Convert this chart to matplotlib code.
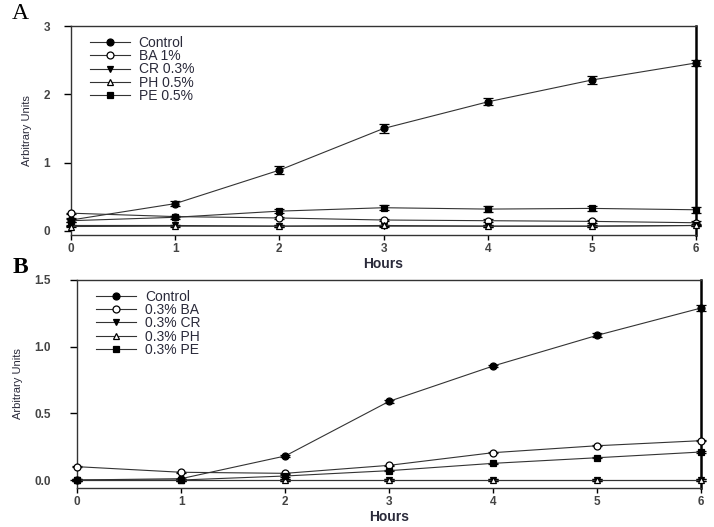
import numpy as np
import matplotlib.pyplot as plt

hours = [0, 1, 2, 3, 4, 5, 6]

# panel A
labels_a = ['Control', 'BA 1%', 'CR 0.3%', 'PH 0.5%', 'PE 0.5%']
ctrl_a = [0.16, 0.40, 0.89, 1.50, 1.89, 2.21, 2.46]
ctrl_a_err = [0.03, 0.04, 0.06, 0.07, 0.05, 0.06, 0.04]
ba_a = [0.26, 0.21, 0.19, 0.16, 0.15, 0.14, 0.12]
ba_a_err = [0.01, 0.01, 0.01, 0.02, 0.02, 0.02, 0.02]
cr_a = [0.08, 0.08, 0.07, 0.07, 0.07, 0.07, 0.08]
cr_a_err = [0.01, 0.01, 0.01, 0.01, 0.01, 0.01, 0.01]
ph_a = [0.065, 0.07, 0.07, 0.08, 0.07, 0.07, 0.08]
ph_a_err = [0.01, 0.01, 0.01, 0.01, 0.01, 0.01, 0.01]
pe_a = [0.15, 0.20, 0.29, 0.34, 0.32, 0.33, 0.31]
pe_a_err = [0.02, 0.02, 0.03, 0.04, 0.04, 0.04, 0.04]

# panel B
labels_b = ['Control', '0.3% BA', '0.3% CR', '0.3% PH', '0.3% PE']
ctrl_b = [0.0, 0.01, 0.18, 0.59, 0.855, 1.085, 1.29]
ctrl_b_err = [0.0, 0.0, 0.005, 0.01, 0.01, 0.015, 0.02]
ba_b = [0.10, 0.058, 0.05, 0.11, 0.205, 0.257, 0.295]
cr_b = [0, 0, 0, 0, 0, 0, 0]
ph_b = [0, 0, 0, 0, 0, 0, 0]
pe_b = [0.0, 0.0, 0.03, 0.07, 0.125, 0.167, 0.21]
small_err = [0.005] * 7

markers = ['o', 'o', 'v', '^', 's']
faces = ['black', 'white', 'black', 'white', 'black']
txtcol = '#2a2a3a'

plt.rcParams['font.family'] = ['Liberation Sans', 'DejaVu Sans']

fig = plt.figure(figsize=(7.14, 5.27), dpi=100)
axA = fig.add_axes([0.0994, 0.554, 0.8756, 0.3966])
axB = fig.add_axes([0.108, 0.074, 0.874, 0.3947])


def draw(ax, series, errs, labels, ypad):
    for n, ys in enumerate(series):
        ax.errorbar(hours, ys, yerr=errs[n], color='#333333', lw=0.8,
                    marker=markers[n], mfc=faces[n], mec='black', mew=0.9,
                    ms=5, capsize=3.5, elinewidth=0.9, ecolor='black',
                    label=labels[n], clip_on=False, zorder=3 + n)
    ax.set_xlim(0, 6)
    ax.set_xticks(hours)
    ax.tick_params(direction='out', length=3.5, width=1, labelsize=8.5,
                   labelcolor='#444444')
    ax.tick_params(axis='x', pad=2)
    ax.tick_params(axis='y', pad=ypad, length=5)
    for s in ['top', 'left', 'bottom']:
        ax.spines[s].set_linewidth(1.0)
        ax.spines[s].set_color('#333333')
    ax.spines['right'].set_linewidth(1.8)
    ax.set_xlabel('Hours', fontsize=10, fontweight='bold', color=txtcol, labelpad=2)
    ax.set_ylabel('Arbitrary Units', fontsize=8, color=txtcol, labelpad=8,
                  family=['Liberation Sans Narrow', 'Liberation Sans'])
    h, l = ax.get_legend_handles_labels()
    h = [x[0] for x in h]
    leg = ax.legend(h, l, loc='upper left', bbox_to_anchor=(0.015, 1.0),
                    frameon=False, fontsize=10, handlelength=2.9,
                    labelspacing=-0.05, handletextpad=0.6, borderaxespad=0.3)
    for t in leg.get_texts():
        t.set_color(txtcol)


draw(axA, [ctrl_a, ba_a, cr_a, ph_a, pe_a],
     [ctrl_a_err, ba_a_err, cr_a_err, ph_a_err, pe_a_err], labels_a, 10)
axA.set_ylim(-0.06, 3)
axA.set_yticks([0, 1, 2, 3])

draw(axB, [ctrl_b, ba_b, cr_b, ph_b, pe_b],
     [ctrl_b_err, small_err, small_err, small_err, small_err], labels_b, 14)
axB.set_ylim(-0.06, 1.5)
axB.set_yticks([0, 0.5, 1.0, 1.5])
axB.set_yticklabels(['0.0', '0.5', '1.0', '1.5'])

for ax in (axA, axB):
    for lab in ax.get_xticklabels() + ax.get_yticklabels():
        lab.set_fontweight('bold')

fig.text(0.017, 0.975, 'A', fontsize=17, family='Liberation Serif', va='center')
fig.text(0.018, 0.492, 'B', fontsize=17, fontweight='bold', family='Liberation Serif', va='center')

fig.savefig('out.png', dpi=100)
